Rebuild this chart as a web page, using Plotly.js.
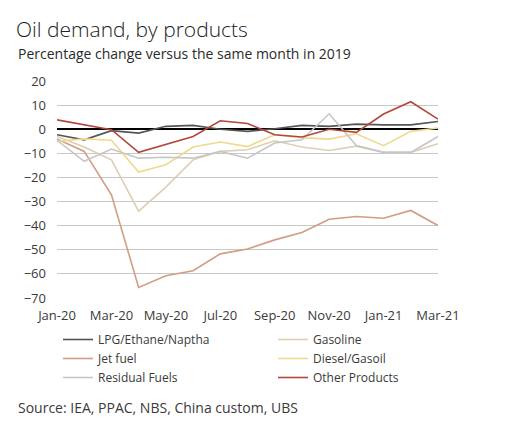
<!DOCTYPE html>
<html>
<head>
<meta charset="utf-8">
<script src="https://cdn.plot.ly/plotly-3.0.1.min.js"></script>
<style>html,body{margin:0;padding:0;background:#fff;}#chart{width:507px;height:438px;}</style>
</head>
<body>
<div id="chart"></div>
<script>
const months = ["Jan-20","Feb-20","Mar-20","Apr-20","May-20","Jun-20","Jul-20","Aug-20","Sep-20","Oct-20","Nov-20","Dec-20","Jan-21","Feb-21","Mar-21"];
const tickLabels = ["Jan-20","Mar-20","May-20","Jul-20","Sep-20","Nov-20","Jan-21","Mar-21"];
const lpg = [-2.3,-4.4,-0.6,-1.6,1.2,1.6,0,-0.9,0.2,1.6,1.2,2.1,1.8,1.8,3.2];
const gasoline = [-3,-7.4,-12.7,-34,-24,-12.7,-9.2,-8.5,-4.8,-7.4,-8.8,-7,-9.6,-9.6,-6];
const jetFuel = [-4,-9.2,-27.2,-65.6,-60.8,-58.7,-51.7,-49.7,-45.9,-42.8,-37.3,-36.2,-36.9,-33.7,-39.9];
const diesel = [-5,-4,-4.6,-17.8,-14.7,-7.4,-5.3,-7.2,-2.3,-3.5,-4.1,-1.9,-6.8,-0.9,0.5];
const residual = [-4.6,-13.3,-8.2,-12,-11.6,-12,-9.2,-12,-5.7,-4.4,6.4,-6.8,-9.6,-9.6,-3];
const other = [3.9,1.9,-0.2,-9.6,-6.4,-3,3.5,2.4,-2.3,-3.2,0,-1.3,6.3,11.4,4.2];

const names = ["LPG/Ethane/Naptha","Gasoline","Jet fuel","Diesel/Gasoil","Residual Fuels","Other Products"];
const series = [lpg, gasoline, jetFuel, diesel, residual, other];
const colors = ["#555555","#dccfb4","#d39c84","#f1d98c","#c6c6c6","#b3473b"];
const legendIds = ["legend","legend2","legend","legend2","legend","legend2"];

const traces = series.map((s,i)=>({
  type:"scatter", mode:"lines", x:months, y:s, name:names[i], legend:legendIds[i],
  line:{color:colors[i], width:1.6}, hoverinfo:"skip"
}));

const font = {family:"Open Sans, Noto Sans, sans-serif", color:"#3a3a3a", size:13};
const legendBase = {orientation:"v", xref:"container", yref:"container", y:1-325/438, xanchor:"left", yanchor:"top",
          itemwidth:30, font:{size:12, color:"#3a3a3a"}, tracegroupgap:0, bgcolor:"rgba(0,0,0,0)", traceorder:"normal"};

const layout = {
  width:507, height:438,
  margin:{l:57, r:69, t:81, b:140, autoexpand:false},
  paper_bgcolor:"#fff", plot_bgcolor:"#fff",
  font:font,
  showlegend:true,
  title:{text:"Oil demand, by products", x:16/507, xanchor:"left", xref:"container", y:1-37/438, yanchor:"bottom", yref:"container",
         font:{family:"Open Sans, sans-serif", size:21, color:"#222", weight:300}, automargin:false},
  xaxis:{type:"category", range:[0,14], tickmode:"array", tickvals:tickLabels, ticktext:tickLabels,
         showgrid:false, zeroline:false, showline:false, ticks:"", ticklabelstandoff:8, tickfont:{size:13, color:"#3a3a3a"}, fixedrange:true, automargin:false},
  yaxis:{range:[-70,20], dtick:10, tick0:0, showgrid:true, gridcolor:"#c8c8c8", gridwidth:1,
         zeroline:true, zerolinecolor:"#000", zerolinewidth:2.5, showline:false, ticks:"", ticklabelstandoff:10,
         tickfont:{size:13, color:"#3a3a3a"}, fixedrange:true, automargin:false},
  legend:Object.assign({}, legendBase, {x:58/507}),
  legend2:Object.assign({}, legendBase, {x:273/507}),
  annotations:[
    {text:"Percentage change versus the same month in 2019", xref:"paper", yref:"paper", showarrow:false,
     x:(16-57)/381, y:1+(81-53)/217, xanchor:"left", yanchor:"middle", font:{size:14, color:"#2a2a2a"}},
    {text:"Source: IEA, PPAC, NBS, China custom, UBS", xref:"paper", yref:"paper", showarrow:false,
     x:(16-57)/381, y:-(407-298)/217, xanchor:"left", yanchor:"middle", font:{size:14, color:"#3a3a3a"}}
  ]
};

Plotly.newPlot("chart", traces, layout, {displayModeBar:false, staticPlot:true});
</script>
</body>
</html>
